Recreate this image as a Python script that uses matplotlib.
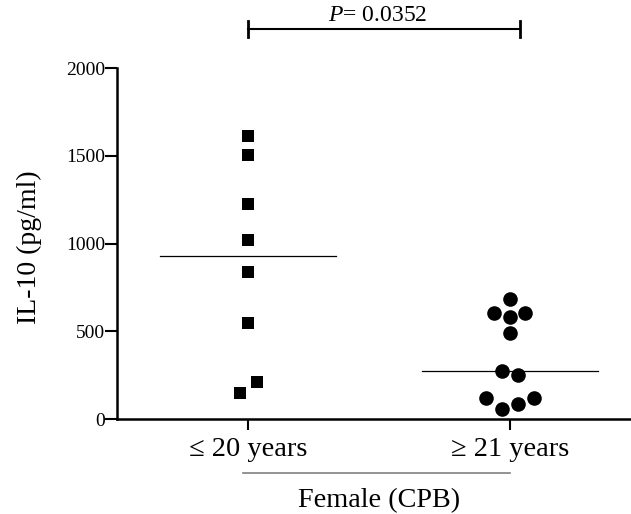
# IL-10 by age group, female CPB patients (scatter with medians)

import numpy as np
import matplotlib
matplotlib.use("Agg")
import matplotlib.pyplot as plt

plt.rcParams['font.family'] = ['Liberation Serif', 'DejaVu Serif']
plt.rcParams['mathtext.fontset'] = 'custom'
plt.rcParams['mathtext.rm'] = 'Liberation Serif'
plt.rcParams['mathtext.it'] = 'Liberation Serif:italic'

groups = ['≤ 20 years', '≥ 21 years']

# values (pg/ml), with the little sideways offsets
young = [1612, 1504, 1225, 1020, 838, 547, 211, 148]
young_dx = [0, 0, 0, 0, 0, 0, 0.034, -0.03]
old = [684, 604, 581, 604, 490, 274, 251, 120, 57, 85, 120]
old_dx = [0, -0.06, 0, 0.057, 0, -0.03, 0.03, -0.09, -0.03, 0.03, 0.09]

p_label = r'$\mathit{P}$= 0.0352'

fig = plt.figure(figsize=(6.31, 5.14), dpi=100)
ax = fig.add_axes([0.1854, 0.1848, 0.8146, 0.6829])

ax.plot(1 + np.array(young_dx), young, 's', color='black', ms=8, mew=0)
ax.plot(2 + np.array(old_dx), old, 'o', color='black', ms=10.5, mew=0)

# median lines
for x, vals in [(1, young), (2, old)]:
    m = np.median(vals)
    ax.plot([x - 0.335, x + 0.335], [m, m], color='black', lw=0.9)

ax.set_xlim(0.5, 2.462)
ax.set_ylim(0, 2000)
ax.set_yticks([0, 500, 1000, 1500, 2000])
ax.set_xticks([1, 2])
ax.set_xticklabels(groups, fontsize=20.5)
ax.tick_params(axis='y', labelsize=14, length=8.5, width=1.5, pad=0)
ax.tick_params(axis='x', length=8, width=1.5, pad=5)
ax.spines['top'].set_visible(False)
ax.spines['right'].set_visible(False)
ax.spines['left'].set_linewidth(1.8)
ax.spines['bottom'].set_linewidth(1.8)
ax.set_ylabel('IL-10 (pg/ml)', fontsize=20)
ax.yaxis.set_label_coords(-0.146, 0.49)

# significance bracket
yb = 2222
ax.plot([1, 2.038], [yb, yb], color='black', lw=1.5, clip_on=False)
ax.plot([1, 1], [yb - 45, yb + 45], color='black', lw=2, clip_on=False)
ax.plot([2.038, 2.038], [yb - 45, yb + 45], color='black', lw=2, clip_on=False)
ax.text(1.496, yb + 20, p_label, ha='center', va='bottom', fontsize=17)

# grouping line and label
ax.plot([0.98, 2.0], [-308, -308], color='gray', lw=1.2, clip_on=False)
ax.text(1.5, -395, 'Female (CPB)', ha='center', va='top', fontsize=20.3)

plt.savefig('out.png', dpi=100)
